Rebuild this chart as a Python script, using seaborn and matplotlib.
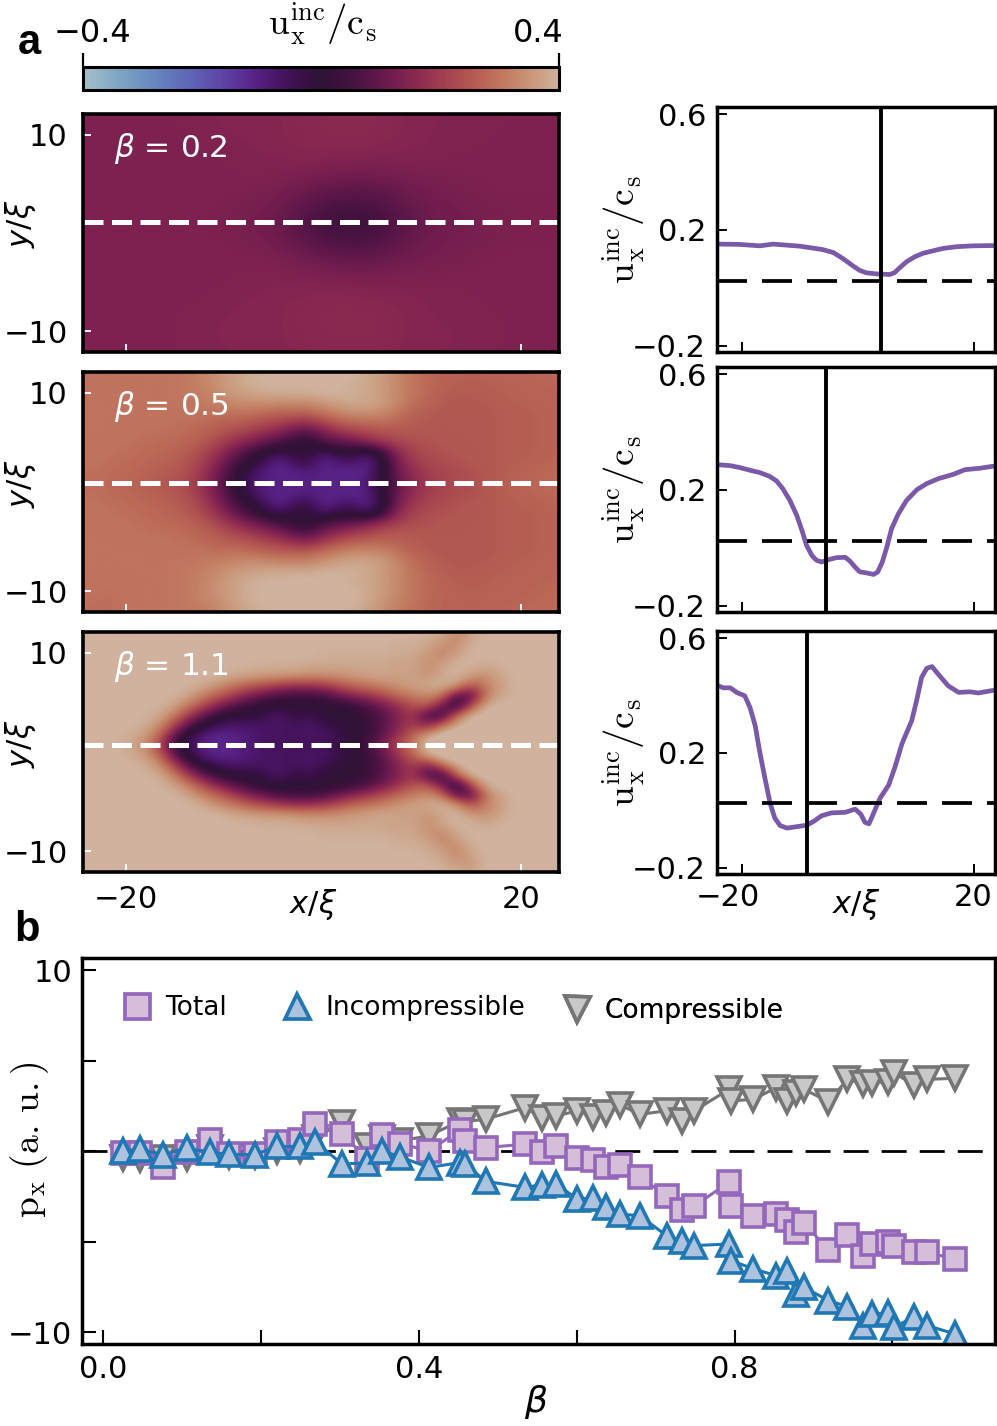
import numpy as np
import seaborn as sns
import matplotlib.pyplot as plt
from matplotlib.colors import ListedColormap
from matplotlib.lines import Line2D

W, H = 997, 1426

# ---- panel a, fields, values in 0.01 c_s, upper half only (mirrored about the dashed line)
x1 = [-24, -21, -18, -15, -12, -9, -6, -3, 0, 3, 6, 9, 12, 15, 18, 21, 24]
dy1 = [0, 2, 4, 6, 8, 10, 12, 14]
field1 = [
    [14, 14, 13.6, 14, 13.6, 13, 12, 9, 4.5, 3, 5, 10, 11.5, 12.6, 13.3, 13.5, 13.6],
    [14, 14, 14, 14, 14, 13.5, 13, 10.5, 7.5, 6, 7.5, 11, 12.5, 13, 13.5, 13.5, 13.6],
    [14, 14, 14, 14, 14, 14, 14, 13, 11.5, 10.5, 11, 12.5, 13, 13.5, 14, 14, 14],
    [14, 14, 14, 14, 14, 14, 14.5, 14.5, 14.5, 14, 14, 14, 14, 14, 14, 14, 14],
    [14, 14, 14, 14, 14, 14.5, 15, 15.5, 16, 16, 15.5, 15, 14.5, 14, 14, 14, 14],
    [14, 14, 14, 14, 14.5, 15, 15, 15.5, 16, 16.5, 16, 15, 14.5, 14.5, 14, 14, 14],
    [14, 14, 14, 14, 14.5, 15, 15, 15.5, 16, 16, 16, 15, 15, 14.5, 14, 14, 14],
    [14, 14, 14, 14, 14, 14.5, 15, 15, 15, 15, 15, 15, 14.5, 14, 14, 14, 14],
]

x2 = list(np.arange(-24, 24.5, 1.5))
dy2 = list(range(14))
field2 = [
    [29, 28.5, 28, 27.5, 26.5, 25.5, 24, 22, 17, 10, 2, -6, -10, -11, -11, -10, -11, -11, -11, -9, 0, 10, 16, 20, 22, 23, 24, 25, 26, 27, 27.5, 28, 28.5],
    [29, 29, 28, 28, 27, 26, 25, 23, 18, 11, 3, -5, -10, -11, -11, -10, -11, -11, -12, -10, 0, 11, 17, 20, 22, 23, 24, 25, 26, 27, 27, 28, 28],
    [30, 29, 29, 28, 28, 27, 26, 24, 20, 14, 6, 0, -6, -12, -7, -4, -12, -9, -8, -12, -1, 13, 19, 22, 23, 24, 25, 25, 26, 26, 27, 27, 28],
    [30, 30, 29, 29, 28, 28, 27, 25, 22, 17, 11, 5, 0, -6, -1, -1, -8, -1, -2, -6, 3, 16, 21, 23, 24, 25, 25, 25, 26, 26, 26, 27, 27],
    [30, 30, 30, 29, 29, 28, 28, 27, 25, 21, 17, 13, 9, 6, 2, 0, 6, 8, 10, 14, 18, 21, 23, 24, 25, 25, 25, 25, 26, 26, 26, 27, 27],
    [30, 30, 30, 30, 29, 29, 29, 28, 27, 25, 22, 20, 17, 14, 9, 7, 13, 17, 20, 22, 24, 25, 25, 25, 25, 25, 25, 25, 26, 26, 26, 27, 27],
    [30, 30, 30, 30, 30, 30, 29, 29, 28, 27, 26, 25, 23, 21, 18, 17, 21, 25, 27, 28, 28, 27, 26, 25, 25, 25, 25, 25, 26, 26, 26, 27, 27],
    [30, 30, 30, 30, 30, 30, 30, 30, 30, 29, 30, 29, 28, 27, 27, 27, 30, 32, 34, 34, 33, 30, 27, 26, 25, 25, 25, 25, 26, 26, 26, 27, 27],
    [30, 30, 30, 30, 30, 30, 30, 30, 31, 32, 33, 34, 34, 33, 33, 33, 35, 37, 38, 38, 36, 33, 29, 27, 26, 25, 25, 26, 26, 26, 27, 27, 27],
    [30, 30, 30, 30, 30, 30, 30, 31, 32, 34, 36, 37, 38, 39, 39, 39, 40, 40, 39, 38, 36, 33, 30, 28, 26, 26, 26, 26, 26, 27, 27, 27, 27],
    [30, 30, 30, 30, 30, 30, 30, 31, 32, 35, 37, 39, 40, 40, 40, 40, 40, 40, 39, 38, 36, 33, 30, 28, 27, 26, 26, 26, 27, 27, 27, 27, 28],
    [30, 29, 29, 30, 30, 30, 30, 31, 33, 35, 37, 39, 40, 41, 41, 41, 41, 41, 40, 38, 36, 33, 30, 28, 27, 27, 26, 27, 27, 27, 27, 28, 28],
    [29, 29, 29, 30, 30, 30, 30, 31, 32, 34, 37, 39, 40, 41, 41, 41, 41, 41, 40, 38, 35, 32, 30, 28, 27, 27, 27, 27, 27, 27, 28, 28, 28],
    [29, 29, 29, 30, 30, 30, 30, 30, 31, 33, 36, 38, 39, 40, 40, 40, 40, 40, 39, 37, 34, 31, 29, 28, 27, 27, 27, 27, 27, 28, 28, 28, 28],
]

x3 = list(np.arange(-24, 24.5, 1.5))
dy3 = list(range(14))
field3 = [
    [40, 40, 40, 38, 34, 22, 4, -6, -11, -12, -11, -9, -6, -6, -6, -6, -6, -3, 0, 6, 14, 23, 31, 42, 46, 48, 45, 41, 40, 40, 40, 41, 42],
    [40, 40, 40, 39, 36, 27, 9, -3, -10, -12, -11, -9, -7, -7, -6, -7, -7, -4, -1, 3, 9, 18, 27, 38, 42, 45, 44, 42, 40, 40, 40, 41, 42],
    [40, 40, 40, 40, 39, 34, 21, 7, -1, -6, -8, -7, -7, -8, -5, -8, -4, -2, 0, 3, 8, 15, 21, 15, 30, 38, 42, 42, 40, 40, 40, 41, 42],
    [41, 40, 40, 40, 40, 38, 31, 19, 9, 2, -1, -1, -3, -8, -2, -4, -1, 0, 1, 3, 8, 14, 20, 6, 2, 30, 40, 42, 40, 40, 40, 41, 41],
    [42, 41, 40, 40, 40, 40, 37, 30, 22, 14, 8, 3, 0, -1, -1, -1, 0, 1, 3, 7, 12, 18, 24, 26, 12, -2, 25, 39, 41, 40, 40, 41, 41],
    [42, 41, 40, 40, 40, 40, 40, 37, 31, 26, 20, 14, 10, 6, 5, 5, 6, 11, 15, 19, 23, 28, 31, 34, 30, 8, 8, 32, 38, 40, 40, 41, 41],
    [42, 42, 41, 40, 40, 40, 40, 40, 38, 34, 30, 26, 23, 20, 18, 18, 20, 24, 28, 30, 32, 35, 37, 38, 40, 36, 24, 32, 37, 40, 40, 41, 41],
    [42, 42, 42, 41, 40, 40, 40, 40, 40, 40, 38, 37, 36, 36, 35, 34, 34, 34, 36, 37, 38, 37, 37, 35, 38, 40, 36, 34, 38, 40, 40, 41, 41],
    [42, 42, 42, 42, 41, 40, 40, 40, 40, 40, 40, 40, 39, 39, 39, 38, 38, 38, 38, 38, 38, 37, 38, 33, 38, 40, 40, 38, 40, 40, 40, 41, 41],
    [42, 42, 42, 42, 42, 41, 40, 40, 40, 40, 40, 40, 40, 40, 40, 40, 39, 39, 39, 39, 39, 38, 38, 36, 32, 38, 40, 40, 40, 40, 40, 41, 41],
    [42, 42, 42, 42, 42, 42, 41, 40, 40, 40, 40, 40, 40, 40, 40, 40, 40, 40, 40, 40, 40, 39, 39, 38, 34, 34, 40, 40, 40, 40, 40, 41, 41],
    [42, 42, 42, 42, 42, 42, 42, 41, 40, 40, 40, 40, 40, 40, 40, 40, 40, 40, 40, 40, 40, 40, 40, 39, 38, 32, 38, 40, 40, 40, 40, 41, 41],
    [42, 42, 42, 42, 42, 42, 42, 42, 41, 40, 40, 40, 40, 40, 40, 40, 40, 40, 40, 40, 40, 40, 40, 40, 39, 36, 36, 40, 40, 40, 40, 41, 41],
    [42, 42, 42, 42, 42, 42, 42, 42, 41, 40, 40, 40, 40, 40, 40, 40, 40, 40, 40, 40, 40, 40, 40, 40, 40, 39, 37, 40, 40, 40, 40, 41, 41],
]
fields = [field1, field2, field3]
field_x = [x1, x2, x3]
field_dy = [dy1, dy2, dy3]
beta_labels = ['0.2', '0.5', '1.1']
cut_y = [1.1, 0.86, 0.7]

# ---- panel a, line cuts
cut1_x = [-24.2, -20.5, -17.0, -14.7, -10.1, -6.1, -4.3, -2.6, -0.9, 0.3, 1.4, 3.2, 5.5, 6.3, 7.2, 8.4, 9.8, 11.2, 13.0, 14.7, 17.0, 19.9, 23.4]
cut1_u = [0.151, 0.150, 0.145, 0.151, 0.144, 0.132, 0.122, 0.101, 0.076, 0.060, 0.052, 0.048, 0.046, 0.052, 0.069, 0.090, 0.107, 0.119, 0.128, 0.136, 0.142, 0.145, 0.146]
cut2_x = [-24.2, -22.1, -20.4, -18.7, -17.0, -15.3, -14.1, -13.0, -11.8, -10.6, -9.7, -8.9, -8.0, -7.2, -6.3, -5.1, -3.7, -2.2, -1.4, -0.5, 0.3, 1.5, 2.7, 3.4, 4.2, 5.0, 5.8, 7.0, 8.4, 10.2, 11.9, 13.9, 16.5, 18.5, 21.1, 23.4]
cut2_u = [0.287, 0.284, 0.277, 0.268, 0.260, 0.247, 0.231, 0.204, 0.164, 0.112, 0.060, 0.008, -0.026, -0.043, -0.049, -0.041, -0.034, -0.033, -0.046, -0.067, -0.083, -0.087, -0.092, -0.084, -0.049, 0.003, 0.066, 0.118, 0.164, 0.201, 0.222, 0.239, 0.254, 0.270, 0.275, 0.282]
cut3_x = [-24.2, -23.3, -22.1, -21.0, -19.6, -18.7, -17.8, -17.0, -16.1, -15.2, -14.4, -13.5, -12.3, -10.6, -8.9, -7.7, -6.3, -4.6, -2.2, -0.5, 0.5, 1.2, 1.9, 2.7, 3.8, 5.3, 6.4, 7.6, 9.3, 10.2, 11.0, 11.9, 12.8, 13.9, 15.6, 17.4, 19.4, 20.8, 23.4]
cut3_u = [0.434, 0.427, 0.427, 0.411, 0.399, 0.359, 0.296, 0.203, 0.111, 0.024, -0.027, -0.053, -0.062, -0.057, -0.052, -0.039, -0.019, -0.009, -0.007, 0.004, -0.014, -0.042, -0.047, -0.010, 0.042, 0.088, 0.151, 0.232, 0.313, 0.388, 0.463, 0.495, 0.501, 0.474, 0.434, 0.411, 0.413, 0.409, 0.418]
cuts = [(cut1_x, cut1_u), (cut2_x, cut2_u), (cut3_x, cut3_u)]
marker_x = [4.0, -5.6, -8.9]

# ---- panel b
beta = [0.025, 0.047, 0.076, 0.106, 0.135, 0.159, 0.192, 0.220, 0.249, 0.269, 0.303, 0.335, 0.354, 0.376, 0.413,
        0.452, 0.459, 0.485, 0.535, 0.556, 0.574, 0.601, 0.621, 0.637, 0.655, 0.680, 0.714, 0.733, 0.749, 0.793,
        0.796, 0.824, 0.853, 0.867, 0.878, 0.888, 0.919, 0.943, 0.963, 0.974, 0.995, 1.002, 1.027, 1.044, 1.079]
p_total = [-0.09, -0.09, -0.86, -0.04, 0.61, -0.17, -0.17, 0.53, 0.61, 1.49, 0.97, -0.44, 0.90, 0.42, 0.02,
           1.16, 0.57, 0.20, 0.39, -0.02, 0.29, -0.40, -0.48, -0.85, -0.79, -1.45, -2.46, -3.26, -3.02, -1.73,
           -3.02, -3.57, -3.48, -3.81, -4.49, -3.99, -5.44, -4.62, -5.78, -5.13, -5.04, -5.22, -5.55, -5.59, -5.96]
p_inc = [0.02, 0.11, -0.20, 0.17, -0.07, -0.17, -0.20, 0.26, 0.26, 0.53, -0.72, -0.63, 0.02, -0.31, -0.90,
         -0.63, -0.72, -1.67, -2.00, -1.86, -1.82, -2.65, -2.59, -3.07, -3.48, -3.57, -4.67, -4.98, -5.22, -5.13,
         -6.05, -6.51, -6.88, -6.60, -7.89, -7.52, -8.26, -8.59, -9.64, -8.99, -8.96, -9.73, -9.18, -9.64, -10.10]
p_comp = [-0.35, -0.44, -0.35, -0.35, 0.20, -0.26, -0.26, 0.02, 0.07, 0.75, 1.58, 0.29, 0.75, 0.57, 0.85,
          1.67, 1.64, 1.77, 2.41, 1.86, 1.95, 2.23, 1.91, 2.10, 2.56, 2.04, 2.23, 1.67, 2.23, 3.42,
          2.78, 2.87, 3.51, 2.78, 3.24, 3.42, 2.74, 3.97, 3.73, 3.79, 3.84, 4.34, 3.66, 3.97, 4.03]

sns.set_style('ticks')
plt.rcParams.update({'font.size': 22, 'mathtext.default': 'regular', 'axes.linewidth': 2.5,
                     'text.color': 'black', 'axes.edgecolor': 'black', 'axes.labelcolor': 'black',
                     'xtick.color': 'black', 'ytick.color': 'black'})

fig = plt.figure(figsize=(W / 100, H / 100), dpi=100)


def ax_px(left, top, right, bottom):
    return fig.add_axes([left / W, 1 - bottom / H, (right - left) / W, (bottom - top) / H])


def txt(px, py, s, **kw):
    fig.text(px / W, 1 - py / H, s, ha='center', va='center', **kw)


cmap = ListedColormap(plt.get_cmap('twilight')(np.linspace(0.1, 0.9, 256)))
UX = r'$\left.\mathrm{u_x^{inc}}\right/\mathrm{c_s}$'

# heat panels
heat_box = [(83, 114, 559, 352), (83, 372, 559, 612), (83, 632, 559, 872)]
for i, box in enumerate(heat_box):
    ax = ax_px(*box)
    half = np.array(fields[i]) / 100
    grid = np.vstack([half[::-1], half[1:]])
    dx = field_x[i][1] - field_x[i][0]
    step = field_dy[i][1] - field_dy[i][0]
    top = field_dy[i][-1] + step / 2
    im = ax.imshow(grid, cmap=cmap, vmin=-0.4, vmax=0.4, origin='lower', aspect='auto',
                   interpolation='bicubic', interpolation_stage='data',
                   extent=[field_x[i][0] - dx / 2, field_x[i][-1] + dx / 2, cut_y[i] - top, cut_y[i] + top])
    ax.axhline(cut_y[i], color='white', lw=3.6, dashes=(4, 1.7))
    ax.set_xlim(-24.3, 23.8)
    ax.set_ylim(-12.1, 12.1)
    ax.set_xticks([-20, 20])
    ax.set_yticks([-10, 10])
    ax.set_xticklabels(['\u221220', '20'] if i == 2 else [])
    ax.tick_params(axis='both', direction='in', length=5.5, width=1.3, color='white', pad=11)
    ax.tick_params(axis='x', pad=9)
    ax.text(-21.2, 8.6, r'$\mathit{\beta}$ = ' + beta_labels[i], color='white', fontsize=22.5, va='center')
    for s in ax.spines.values():
        s.set_linewidth(2.6)
    txt(21, box[1] + (110 if i == 0 else 112), r'$\mathit{y/\xi}$', rotation=90)

# colour bar
cax = ax_px(83, 67, 559, 90)
cb = fig.colorbar(im, cax=cax, orientation='horizontal')
cb.set_ticks([-0.4, 0.4], labels=['', ''])
cax.xaxis.set_ticks_position('top')
cax.tick_params(axis='x', direction='out', length=10, width=1.6)
cb.outline.set_linewidth(2.2)
txt(92, 33, '\u22120.4', fontsize=23)
txt(538, 33, '0.4', fontsize=23)
txt(322, 24, UX, math_fontfamily='cm', fontsize=27)

# line cuts
cut_box = [(717, 107, 995, 352), (717, 367, 995, 612), (717, 631, 995, 874)]
for i, box in enumerate(cut_box):
    ax = ax_px(*box)
    sns.lineplot(x=cuts[i][0], y=cuts[i][1], ax=ax, color='#7b59a9', lw=3.4, errorbar=None)
    ax.axhline(0.024, color='black', lw=2.7, dashes=(8, 4))
    ax.axvline(marker_x[i], color='black', lw=2.8)
    ax.set_xlim(-24.4, 23.7)
    ax.set_ylim(-0.222, 0.625)
    ax.set_xticks([-20, 20])
    ax.set_yticks([-0.2, 0.2, 0.6])
    ax.set_xticklabels([])
    ax.set_yticklabels(['\u22120.2', '0.2', '0.6'])
    ax.tick_params(axis='both', direction='in', length=7, width=1.4, pad=8)
    txt(624, (box[1] + box[3]) / 2, UX, rotation=90, math_fontfamily='cm', fontsize=27)

txt(728, 898, '\u221220')
txt(973, 898, '20')
txt(313, 904, r'$\mathit{x/\xi}$')
txt(856, 904, r'$\mathit{x/\xi}$')
txt(29, 43, 'a', family='Liberation Sans', weight='bold', fontsize=30)
txt(27, 930, 'b', family='Liberation Sans', weight='bold', fontsize=30)

# panel b
ax = ax_px(82, 958, 995, 1344)
ax.axhline(0, color='black', lw=2.0, dashes=(9, 4.7), zorder=1)
series = [(p_comp, 'v', '#757575', '#c8c8c8', 17), (p_total, 's', '#9467bd', '#d5bfd8', 16),
          (p_inc, '^', '#1f77b4', '#adc2dc', 17)]
for vals, mk, edge, face, size in series:
    sns.lineplot(x=beta, y=vals, ax=ax, color=edge, lw=2.2, marker=mk, markersize=size, markerfacecolor=face,
                 markeredgecolor=edge, markeredgewidth=2.6, errorbar=None)
ax.set_xlim(-0.0266, 1.13)
ax.set_ylim(-10.66, 10.68)
ax.set_xticks([0, 0.2, 0.4, 0.6, 0.8, 1.0])
ax.set_xticklabels(['0.0', '', '0.4', '', '0.8', ''])
ax.set_yticks([-10, -5, 0, 5, 10])
ax.set_yticklabels(['\u221210', '', '', '', '10'])
ax.tick_params(axis='both', direction='in', length=10, width=1.5, pad=8)
ax.tick_params(axis='y', pad=7)

# three separate legend entries, the gaps between them are not even
entries = [(series[1], 'Total', 124, 1008), (series[2], 'Incompressible', 284, 1008), (series[0], 'Compressible', 564, 1011)]
for (_, mk, edge, face, _s), name, px, py in entries:
    h = Line2D([], [], ls='none', marker=mk, ms=18, mfc=face, mec=edge, mew=2.7)
    leg = ax.legend([h], [name], frameon=False, fontsize=19, loc='center left', bbox_to_anchor=(px / W, 1 - py / H),
                    bbox_transform=fig.transFigure, borderpad=0, borderaxespad=0, handlelength=1, handletextpad=0.55)
    ax.add_artist(leg)

txt(30, 1140, r'$\mathrm{p_x\ (a.\,u.)}$', rotation=90, math_fontfamily='cm', fontsize=27)
txt(536, 1402, r'$\mathit{\beta}$', fontsize=26)

fig.savefig('out.png', dpi=100)
